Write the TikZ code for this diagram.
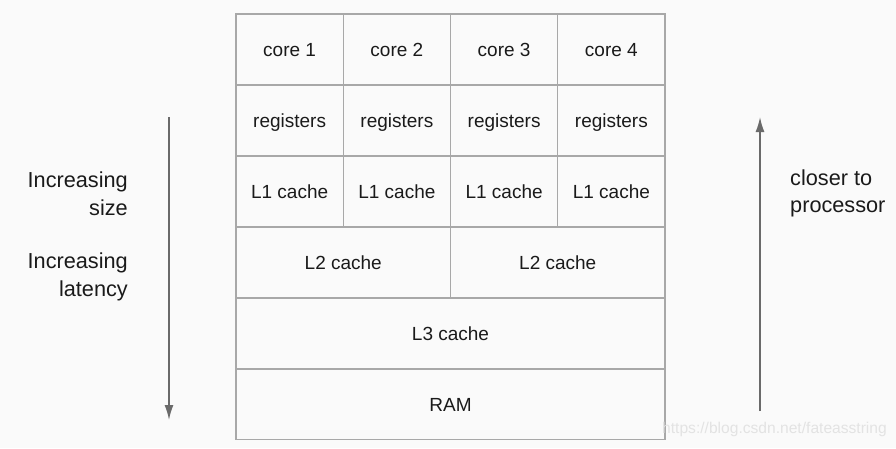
\documentclass[tikz,border=0pt]{standalone}
\usepackage{fontspec}
\setmainfont{Liberation Sans}
\usepackage{xcolor}
\usetikzlibrary{arrows.meta, positioning}
\definecolor{bgcol}{HTML}{FAFAFA}
\definecolor{gridcol}{HTML}{A8A8A8}
\definecolor{txtcol}{HTML}{1A1A1A}
\definecolor{arrcol}{HTML}{6A6A6A}
\tikzset{
    cell/.style={draw=gridcol, line width=1.4pt, text=txtcol, inner sep=0pt,
        font=\fontsize{19}{23}\selectfont, minimum height=71pt,
        text height=14pt, text depth=0pt},
    quarter/.style={cell, minimum width=107.25pt},
    half/.style={cell, minimum width=214.5pt},
    whole/.style={cell, minimum width=429pt},
    side/.style={text=txtcol, inner sep=0pt, font=\fontsize{21.7}{27.5}\selectfont},
    trend/.style={draw=arrcol, line width=1.6pt, -{Latex[length=15pt, width=9pt]}}
}
\begin{document}
\begin{tikzpicture}[x=1pt, y=-1pt]
    \fill[bgcol] (0, 0) rectangle (896, 448);
    \useasboundingbox (0, 0) rectangle (896, 448);
    % cores, registers and L1 caches
    \foreach \i in {1, 2, 3, 4} {
        \node[quarter] (core\i) at ({236 + 107.25*(\i - 0.5)}, 49.5) {core \i};
        \node[quarter] (reg\i) at ({236 + 107.25*(\i - 0.5)}, 120.5) {registers};
        \node[quarter] (lone\i) at ({236 + 107.25*(\i - 0.5)}, 191.5) {L1 cache};
    }
    \node[half] (ltwoa) at (343.25, 262.5) {L2 cache};
    \node[half] (ltwob) at (557.75, 262.5) {L2 cache};
    \node[whole] (lthree) at (450.5, 333.5) {L3 cache};
    \node[whole] (ram) at (450.5, 404) {RAM};
    % side labels
    \node[side, align=right, anchor=east] (size) at (128, 193.5) {Increasing\\size};
    \node[side, align=right, anchor=east] (latency) at (128, 277) {Increasing\\latency};
    \node[side, align=left, anchor=west] (closer) at (790, 193.5) {closer to\\processor};
    \coordinate (downtop) at (169, 117);
    \coordinate (downend) at (169, 420);
    \coordinate (upstart) at (760, 411);
    \coordinate (uptop) at (760, 117);
    \draw[trend] (downtop) -- (downend);
    \draw[trend] (upstart) -- (uptop);
    \node[text=gray!22, font=\fontsize{15.6}{19}\selectfont, anchor=east, inner sep=0pt]
        (mark) at (887, 429) {https://blog.csdn.net/fateasstring};
\end{tikzpicture}
\end{document}
